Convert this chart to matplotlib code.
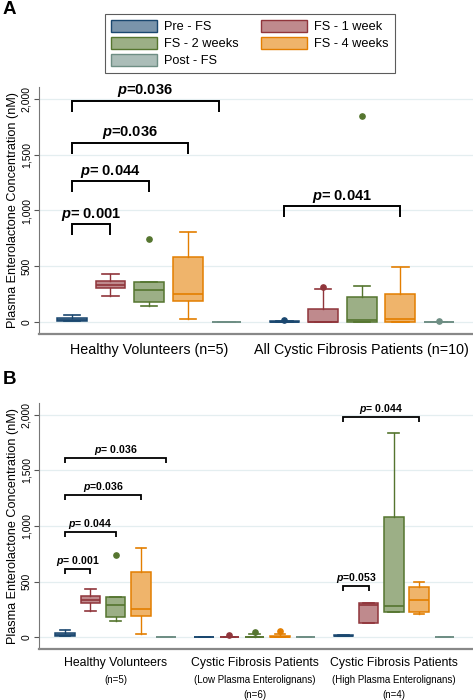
import matplotlib
matplotlib.use("Agg")
import matplotlib.pyplot as plt
from matplotlib.patches import Patch
from matplotlib.colors import to_rgb

plt.rcParams['font.family'] = ['Liberation Sans', 'DejaVu Sans']
plt.rcParams['mathtext.fontset'] = 'custom'
plt.rcParams['mathtext.it'] = 'Liberation Sans:italic:bold'
plt.rcParams['mathtext.rm'] = 'Liberation Sans:bold'

# ---------------- data ----------------
series = ["Pre - FS", "FS - 1 week", "FS - 2 weeks", "FS - 4 weeks", "Post - FS"]
colors = ["#1a476f", "#90353b", "#55752f", "#e37e00", "#6e8e84"]

# Healthy volunteers (n=5)
hv_lo  = [8, 234, 144, 30, 0]
hv_q1  = [12, 302, 180, 192, 0]
hv_med = [22, 335, 288, 250, 0]
hv_q3  = [38, 370, 357, 583, 0]
hv_hi  = [60, 428, 357, 805, 0]
hv_out = [[], [], [741], [], []]

# All cystic fibrosis patients (n=10)
cf_lo  = [0, 0, 0, 0, 0]
cf_q1  = [0, 0, 0, 0, 0]
cf_med = [3, 2, 18, 27, 0]
cf_q3  = [5, 120, 228, 252, 0]
cf_hi  = [5, 294, 324, 492, 0]
cf_out = [[21], [315], [1844], [], [9]]

# CF low plasma enterolignans (n=6)
lo_lo  = [0, 0, 0, 0, 0]
lo_q1  = [0, 0, 0, 0, 0]
lo_med = [0, 0, 0, 0, 0]
lo_q3  = [0, 0, 4, 8, 0]
lo_hi  = [0, 0, 25, 30, 0]
lo_out = [[], [18], [42], [57], []]

# CF high plasma enterolignans (n=4)
hi_lo  = [5, 129, 222, 207, 0]
hi_q1  = [5, 129, 228, 228, 0]
hi_med = [9, 288, 279, 330, 0]
hi_q3  = [14, 309, 1081, 453, 0]
hi_hi  = [14, 309, 1841, 492, 0]
hi_out = [[], [], [], [], []]

# significance brackets: (group, series_from, series_to, bracket top, p-text)
brA = [(0, 0, 1, 880, "0.001", " "), (0, 0, 2, 1264, "0.044", " "),
       (0, 0, 3, 1610, "0.036", ""), (0, 0, 3.8, 1985, "0.036", ""),
       (1, 0, 3, 1039, "0.041", " ")]
brB = [(0, 0, 1, 613, "0.001", " "), (0, 0, 2, 946, "0.044", " "),
       (0, 0, 3, 1279, "0.036", ""), (0, 0, 4, 1610, "0.036", " "),
       (2, 0, 1, 459, "0.053", ""), (2, 0, 3, 1985, "0.044", " ")]

yticks = [0, 500, 1000, 1500, 2000]
ytick_labels = ["0", "500", "1,000", "1,500", "2,000"]

# ---------------- helpers ----------------
GROUP_STEP = 5.5
WIDTH = 0.77


def light(c, a=0.58):
    r, g, b = to_rgb(c)
    return (a * r + (1 - a), a * g + (1 - a), a * b + (1 - a))


def draw_group(ax, gi, lo, q1, med, q3, hi, out):
    for i in range(5):
        st = dict(whislo=lo[i], q1=q1[i], med=med[i], q3=q3[i],
                  whishi=hi[i], fliers=out[i])
        c = colors[i]
        ax.bxp([st], positions=[gi * GROUP_STEP + i], widths=WIDTH,
               patch_artist=True, showfliers=True, manage_ticks=False,
               boxprops=dict(facecolor=light(c), edgecolor=c, linewidth=1.1),
               medianprops=dict(color=c, linewidth=1.2),
               whiskerprops=dict(color=c, linewidth=1.0),
               capprops=dict(color=c, linewidth=1.2),
               capwidths=WIDTH * 0.55,
               flierprops=dict(marker='o', markerfacecolor=c,
                               markeredgecolor=c, markersize=3.8))


def style_axes(ax, xlim, tick_fs):
    ax.set_xlim(*xlim)
    ax.set_ylim(-108, 2108)
    ax.set_yticks(yticks)
    ax.set_yticklabels(ytick_labels, rotation=90, va='center', fontsize=tick_fs)
    ax.tick_params(axis='y', length=3.5, width=0.8, color='#555555', pad=2)
    ax.set_xticks([])
    for y in yticks:
        ax.axhline(y, color='#e4eef0', linewidth=0.9, zorder=0)
    for s in ['top', 'right']:
        ax.spines[s].set_visible(False)
    ax.spines['left'].set_color('#777777')
    ax.spines['left'].set_linewidth(0.8)
    ax.spines['bottom'].set_color('#888888')
    ax.spines['bottom'].set_linewidth(1.6)
    ax.set_ylabel("Plasma Enterolactone Concentration (nM)", fontsize=9.1,
                  labelpad=2)


def draw_brackets(ax, brs, leg, gap, fs, lw):
    for g, a, b, top, p, sp in brs:
        x0 = g * GROUP_STEP + a
        x1 = g * GROUP_STEP + b
        ax.plot([x0, x0, x1, x1], [top - leg, top, top, top - leg],
                color='black', linewidth=lw, solid_joinstyle='miter',
                solid_capstyle='butt')
        ax.text((x0 + x1) / 2, top + gap, r"$p$=" + sp + p,
                ha='center', va='bottom', fontsize=fs, fontweight='bold')


fig = plt.figure(figsize=(4.73, 7.0), dpi=100)

# ---------------- panel A ----------------
axA = fig.add_axes([39 / 473, 1 - 334 / 700, 434 / 473, 247 / 700])
draw_group(axA, 0, hv_lo, hv_q1, hv_med, hv_q3, hv_hi, hv_out)
draw_group(axA, 1, cf_lo, cf_q1, cf_med, cf_q3, cf_hi, cf_out)
style_axes(axA, (-0.85, 10.38), 7.5)
draw_brackets(axA, brA, 100, 12, 10.5, 1.4)
for gi, lab in enumerate(["Healthy Volunteers (n=5)",
                          "All Cystic Fibrosis Patients (n=10)"]):
    axA.text(gi * GROUP_STEP + 2, -0.065, lab, transform=axA.get_xaxis_transform(),
             ha='center', va='center', fontsize=10.3)

# ---------------- panel B ----------------
axB = fig.add_axes([39 / 473, 1 - 649 / 700, 434 / 473, 246 / 700])
draw_group(axB, 0, hv_lo, hv_q1, hv_med, hv_q3, hv_hi, hv_out)
draw_group(axB, 1, lo_lo, lo_q1, lo_med, lo_q3, lo_hi, lo_out)
draw_group(axB, 2, hi_lo, hi_q1, hi_med, hi_q3, hi_hi, hi_out)
style_axes(axB, (-1.03, 16.13), 7.5)
draw_brackets(axB, brB, 45, 8, 7.6, 1.3)
labelsB = [("Healthy Volunteers", ["(n=5)"]),
           ("Cystic Fibrosis Patients", ["(Low Plasma Enterolignans)", "(n=6)"]),
           ("Cystic Fibrosis Patients", ["(High Plasma Enterolignans)", "(n=4)"])]
tr = axB.get_xaxis_transform()
for gi, (main, subs) in enumerate(labelsB):
    xc = gi * GROUP_STEP + 2
    axB.text(xc, -0.057, main, transform=tr, ha='center', va='center', fontsize=8.8)
    for k, s in enumerate(subs):
        axB.text(xc, -0.126 - 0.059 * k, s, transform=tr, ha='center',
                 va='center', fontsize=7.0)

# ---------------- legend ----------------
order = [0, 2, 4, 1, 3]
handles = [Patch(facecolor=light(colors[i]), edgecolor=colors[i], linewidth=1.0,
                 label=series[i]) for i in order]
leg = fig.legend(handles=handles, ncol=2, loc='upper left',
                 bbox_to_anchor=(105 / 473, 1 - 14 / 700), fontsize=9.2,
                 frameon=True, fancybox=False, edgecolor='#333333',
                 handlelength=3.6, handleheight=1.05, labelspacing=0.3,
                 columnspacing=1.8, handletextpad=0.55, borderpad=0.45,
                 borderaxespad=0)
leg.get_frame().set_linewidth(0.8)

# panel letters
fig.text(3 / 473, 1 - 10 / 700, "A", fontsize=13.5, fontweight='bold', va='center')
fig.text(3 / 473, 1 - 380 / 700, "B", fontsize=13.5, fontweight='bold', va='center')

fig.savefig("out.png", dpi=100)
